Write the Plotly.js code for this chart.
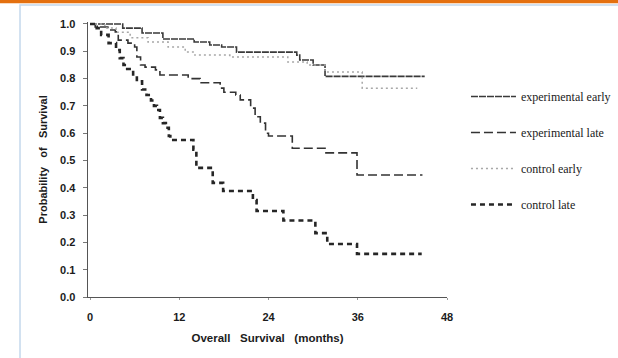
<!DOCTYPE html>
<html>
<head>
<meta charset="utf-8">
<script src="https://cdn.plot.ly/plotly-3.0.1.min.js"></script>
<style>html,body{margin:0;padding:0;background:#fff;}#chart{width:618px;height:358px;}</style>
</head>
<body>
<div id="chart"></div>
<script>
// Kaplan-Meier step data (months, survival probability)
var expEarlyT = [0, 4.4, 7, 9.8, 14, 16.1, 17.7, 19.7, 27.8, 28.2, 30, 31.6, 45];
var expEarlyS = [1.0, 0.985, 0.967, 0.945, 0.934, 0.923, 0.916, 0.897, 0.886, 0.868, 0.85, 0.808, 0.808];

var ctlEarlyT = [0, 2, 3.5, 5.4, 7.8, 10.5, 12.8, 14.1, 18.8, 26.6, 29.2, 31.6, 36.6, 44];
var ctlEarlyS = [1.0, 0.985, 0.97, 0.95, 0.934, 0.916, 0.897, 0.886, 0.879, 0.861, 0.85, 0.824, 0.765, 0.765];

var expLateT = [0, 0.7, 2.4, 3.4, 3.8, 5.1, 6, 6.3, 6.8, 7.4, 8.8, 9.4, 13.2, 14.8, 17.5, 18, 19.6, 20.2, 21.6, 22.2, 22.9, 23.6, 24, 27.2, 31.6, 35.9, 44.7];
var expLateS = [1.0, 0.989, 0.978, 0.971, 0.941, 0.93, 0.916, 0.879, 0.85, 0.842, 0.832, 0.813, 0.80, 0.785, 0.765, 0.75, 0.74, 0.722, 0.692, 0.66, 0.637, 0.60, 0.59, 0.545, 0.528, 0.447, 0.447];

var ctlLateT = [0, 0.5, 0.9, 1.5, 2.5, 3.5, 4, 4.5, 5, 5.8, 6.3, 7, 7.6, 8.2, 8.6, 9, 9.4, 9.8, 10.2, 10.6, 10.8, 13.9, 14.3, 16.5, 17.9, 21.9, 22.4, 26, 30.3, 31.9, 35.9, 44.6];
var ctlLateS = [1.0, 0.99, 0.985, 0.96, 0.93, 0.905, 0.875, 0.85, 0.835, 0.81, 0.79, 0.76, 0.74, 0.72, 0.70, 0.685, 0.656, 0.637, 0.62, 0.59, 0.575, 0.54, 0.473, 0.418, 0.388, 0.355, 0.315, 0.28, 0.234, 0.194, 0.158, 0.158];

var seriesNames = ['experimental early', 'experimental late', 'control early', 'control late'];
var xTickVals = [0, 12, 24, 36, 48];
var yTickVals = [0, 0.1, 0.2, 0.3, 0.4, 0.5, 0.6, 0.7, 0.8, 0.9, 1.0];
var yTickText = ['0.0', '0.1', '0.2', '0.3', '0.4', '0.5', '0.6', '0.7', '0.8', '0.9', '1.0'];

function tr(x, y, name, color, width, dash, grp) {
  return {x: x, y: y, name: name, type: 'scatter', mode: 'lines',
    line: {shape: 'hv', color: color, width: width, dash: dash},
    legendgroup: grp, hoverinfo: 'skip'};
}

var data = [
  tr(expEarlyT, expEarlyS, seriesNames[0], '#3a3a3a', 1.6, '7px,1px', 'a'),
  tr(expLateT, expLateS, seriesNames[1], '#333333', 1.6, '9px,4px', 'b'),
  tr(ctlEarlyT, ctlEarlyS, seriesNames[2], '#a8a8a8', 1.5, '2px,3px', 'c'),
  tr(ctlLateT, ctlLateS, seriesNames[3], '#262626', 2.6, '5px,4px', 'd')
];

var tickFont = {family: 'Liberation Sans, Arial, sans-serif', size: 11, color: '#1c1c1c', weight: 'bold'};
var nb = '\u00a0';
var sp = nb + nb + nb;

var layout = {
  width: 618, height: 358,
  margin: {l: 88, r: 171, t: 22, b: 61},
  paper_bgcolor: '#ffffff', plot_bgcolor: '#ffffff',
  showlegend: true,
  legend: {
    xref: 'container', x: 0.754, xanchor: 'left', y: 0.782, yanchor: 'top',
    font: {family: 'Liberation Serif, Times New Roman, serif', size: 12, color: '#1a1a1a'},
    tracegroupgap: 17, itemwidth: 45, bgcolor: 'rgba(0,0,0,0)'
  },
  xaxis: {
    range: [-0.27, 48], tickvals: xTickVals, ticktext: xTickVals.map(String),
    showline: true, linecolor: '#555', linewidth: 1.4, ticks: 'outside', ticklen: 2, tickcolor: '#999',
    ticklabelstandoff: 7,
    showgrid: false, zeroline: false, tickfont: tickFont,
    title: {text: 'Overall' + sp + 'Survival' + sp + '(months)', font: {family: 'Liberation Sans, Arial, sans-serif', size: 11.5, color: '#1c1c1c', weight: 'bold'}, standoff: 12}
  },
  yaxis: {
    range: [0, 1.0073], tickvals: yTickVals, ticktext: yTickText,
    showline: true, linecolor: '#555', linewidth: 1.4, ticks: 'outside', ticklen: 4, tickcolor: '#777',
    ticklabelstandoff: 5,
    showgrid: false, zeroline: false, tickfont: tickFont,
    title: {text: 'Probability' + sp + 'of' + sp + 'Survival', font: {family: 'Liberation Sans, Arial, sans-serif', size: 11, color: '#1c1c1c', weight: 'bold'}, standoff: 10}
  },
  shapes: [
    {type: 'rect', xref: 'paper', yref: 'paper', x0: -0.1894, x1: 1.7, y0: -0.5, y1: 1.0618,
     line: {color: '#c4d8ec', width: 1.5}, fillcolor: 'rgba(0,0,0,0)', layer: 'below'},
    {type: 'rect', xref: 'paper', yref: 'paper', x0: -0.3, x1: 1.7, y0: 1.068, y1: 1.1,
     line: {width: 0}, fillcolor: '#e4700f', layer: 'below'}
  ]
};

Plotly.newPlot('chart', data, layout, {displayModeBar: false, staticPlot: true});
</script>
</body>
</html>
